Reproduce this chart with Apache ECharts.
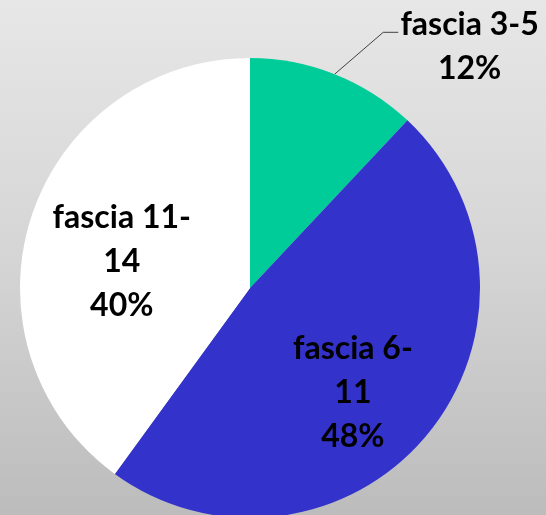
<!DOCTYPE html>
<html><head><meta charset="utf-8">
<script src="https://cdn.jsdelivr.net/npm/echarts@6/dist/echarts.min.js"></script>
<style>html,body{margin:0;padding:0;}#c{width:546px;height:515px;}</style>
</head><body><div id="c"></div>
<script>
const categories = ['fascia 3-5', 'fascia 6-11', 'fascia 11-14'];
const labelTexts = ['fascia 3-5', 'fascia 6-\n11', 'fascia 11-\n14'];
const values = [12, 48, 40];
const colors = ['#00CC99', '#3333CC', '#FFFFFF'];

const chart = echarts.init(document.getElementById('c'), null, {renderer: 'canvas'});
chart.setOption({
  backgroundColor: new echarts.graphic.LinearGradient(0, 0, 0, 1, [
    {offset: 0, color: '#e7e7e7'}, {offset: 0.5, color: '#d5d5d5'}, {offset: 1, color: '#bcbcbc'}
  ]),
  animation: false,
  series: [{
    type: 'pie',
    center: [250, 288],
    radius: 230,
    startAngle: 90,
    clockwise: true,
    data: categories.map((n, i) => ({
      name: n, value: values[i],
      itemStyle: {color: colors[i]},
      label: i === 0 ? {
        position: 'outside',
        overflow: 'none',
        padding: [28, 0, 0, 0],
        formatter: p => labelTexts[p.dataIndex].split('\n').map(s => '{t|' + s + '}').join('\n') + '\n{t|' + p.percent.toFixed(0) + '%}',
        rich: {t: {align: 'center', fontFamily: 'Lato', fontWeight: 'bold', fontSize: 32, lineHeight: 44, color: '#000'}}
      } : {position: 'inner'},
      labelLine: {show: i === 0}
    })),
    label: {
      formatter: p => labelTexts[p.dataIndex] + '\n' + p.percent.toFixed(0) + '%',
      fontFamily: 'Lato',
      fontWeight: 'bold',
      fontSize: 32,
      lineHeight: 44,
      color: '#000',
      align: 'center'
    },
    labelLine: {
      length: 45, length2: 47,
      lineStyle: {color: '#404040', width: 1}
    },
    labelLayout: p => {
      if (p.dataIndex === 0) {
        const pts = p.labelLinePoints;
        if (pts && pts.length === 3) {
          const end = pts[2];
          return {labelLinePoints: [pts[0], [end[0] - 15, end[1]], end]};
        }
        return {};
      }
      if (p.dataIndex === 1) return {dx: 12, dy: 29};
      return {dx: -16, dy: 10};
    }
  }]
});
</script></body></html>
